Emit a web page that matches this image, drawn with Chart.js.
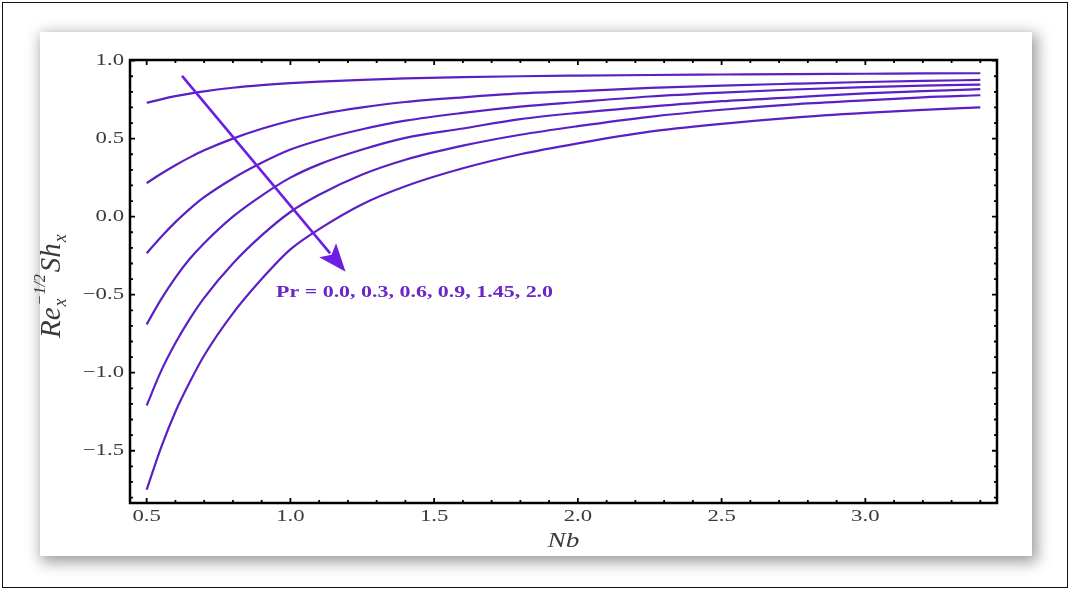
<!DOCTYPE html>
<html>
<head>
<meta charset="utf-8">
<script src="https://cdn.jsdelivr.net/npm/chart.js@4.4.1/dist/chart.umd.min.js"></script>
<style>
  html, body { margin: 0; padding: 0; background: #fff; }
  #page  { position: relative; width: 1070px; height: 589px; overflow: hidden; }
  #frame { position: absolute; left: 2px; top: 2px; width: 1066px; height: 586px; box-sizing: border-box; border: 1.5px solid #111; }
  #panel { position: absolute; left: 40px; top: 32px; width: 992px; height: 524px; background: #fff;
           box-shadow: 3px 4px 14px 2px rgba(0,0,0,0.40); }
  canvas { position: absolute; left: 0; top: 0; }
</style>
</head>
<body>
<div id="page">
  <div id="frame"></div>
  <div id="panel"></div>
  <canvas id="nbCanvas" width="1070" height="589"></canvas>
</div>
<script>
(function(){
'use strict';

// valores
const nb    = [0.5, 0.55, 0.6, 0.65, 0.7, 0.8, 0.9, 1.0, 1.1, 1.25, 1.4, 1.6, 1.8, 2.0, 2.25, 2.5, 2.75, 3.0, 3.2, 3.4];
const pr00  = [0.73, 0.752, 0.772, 0.789, 0.803, 0.826, 0.843, 0.856, 0.866, 0.877, 0.886, 0.894, 0.90, 0.904, 0.908, 0.911, 0.914, 0.916, 0.918, 0.919];
const pr03  = [0.215, 0.275, 0.33, 0.38, 0.425, 0.50, 0.563, 0.615, 0.655, 0.70, 0.735, 0.765, 0.79, 0.805, 0.825, 0.84, 0.852, 0.863, 0.87, 0.876];
const pr06  = [-0.235, -0.13, -0.035, 0.05, 0.125, 0.245, 0.345, 0.43, 0.49, 0.56, 0.615, 0.665, 0.705, 0.735, 0.77, 0.795, 0.815, 0.83, 0.84, 0.846];
const pr09  = [-0.69, -0.53, -0.39, -0.27, -0.17, 0.0, 0.135, 0.25, 0.335, 0.43, 0.505, 0.565, 0.625, 0.665, 0.705, 0.74, 0.765, 0.79, 0.805, 0.817];
const pr145 = [-1.21, -0.99, -0.81, -0.655, -0.52, -0.30, -0.12, 0.03, 0.14, 0.27, 0.365, 0.455, 0.525, 0.58, 0.64, 0.685, 0.72, 0.745, 0.765, 0.778];
const pr20  = [-1.75, -1.48, -1.25, -1.06, -0.89, -0.62, -0.40, -0.21, -0.08, 0.08, 0.195, 0.31, 0.40, 0.47, 0.545, 0.595, 0.635, 0.665, 0.685, 0.70];
const series = [pr00, pr03, pr06, pr09, pr145, pr20];

const xTicks = [0.5, 1.0, 1.5, 2.0, 2.5, 3.0];
const yTicks = [-1.5, -1.0, -0.5, 0.0, 0.5, 1.0];

const arrowFrom = { x: 0.623, y: 0.902 };
const arrowTo   = { x: 1.192, y: -0.353 };
const prLabel   = 'Pr = 0.0, 0.3, 0.6, 0.9, 1.45, 2.0';
const prLabelAt = { x: 0.95, y: -0.49 };

const CURVE = '#5b20c4';
const ARROW = '#6c1ee6';
const SERIF = '"Liberation Serif", "Times New Roman", serif';

function txt(ctx, s, x, y, font, align, sx){
  ctx.save();
  ctx.font = font;
  ctx.textBaseline = 'middle';
  ctx.textAlign = 'left';
  const w = ctx.measureText(s).width * sx;
  const x0 = align === 'right' ? x - w : (align === 'center' ? x - w / 2 : x);
  ctx.translate(x0, y);
  ctx.scale(sx, 1);
  ctx.fillText(s, 0, 0);
  ctx.restore();
}
const fmt = v => v.toFixed(1).replace('-', '\u2212');

// marco, ticks hacia dentro, etiquetas, títulos y flecha
const decor = {
  id: 'decor',
  afterDraw(chart){
    const { ctx, chartArea: a, scales: { x, y } } = chart;
    ctx.save();

    // flecha
    const x1 = x.getPixelForValue(arrowFrom.x), y1 = y.getPixelForValue(arrowFrom.y);
    const x2 = x.getPixelForValue(arrowTo.x),   y2 = y.getPixelForValue(arrowTo.y);
    const ang = Math.atan2(y2 - y1, x2 - x1);
    const hl = 28, hw = 11;
    const bx = x2 - hl * Math.cos(ang), by = y2 - hl * Math.sin(ang);
    ctx.strokeStyle = ARROW; ctx.fillStyle = ARROW; ctx.lineWidth = 2.6;
    ctx.beginPath(); ctx.moveTo(x1, y1); ctx.lineTo(bx + 4 * Math.cos(ang), by + 4 * Math.sin(ang)); ctx.stroke();
    ctx.beginPath();
    ctx.moveTo(x2, y2);
    ctx.lineTo(bx + hw * Math.sin(ang), by - hw * Math.cos(ang));
    ctx.lineTo(bx + 6 * Math.cos(ang), by + 6 * Math.sin(ang));
    ctx.lineTo(bx - hw * Math.sin(ang), by + hw * Math.cos(ang));
    ctx.closePath(); ctx.fill();

    // etiqueta Pr
    ctx.fillStyle = '#6a26c8';
    txt(ctx, prLabel, x.getPixelForValue(prLabelAt.x), y.getPixelForValue(prLabelAt.y), 'bold 16.5px ' + SERIF, 'left', 1.33);

    // marco
    ctx.strokeStyle = '#000'; ctx.lineWidth = 2.5;
    ctx.strokeRect(a.left, a.top, a.right - a.left, a.bottom - a.top);

    // ticks
    ctx.lineWidth = 1.8;
    ctx.beginPath();
    for (let i = 5; i <= 34; i++) {
      const v = i / 10, px = x.getPixelForValue(v), L = (i % 5 === 0) ? 5 : 3;
      ctx.moveTo(px, a.bottom); ctx.lineTo(px, a.bottom - L);
      ctx.moveTo(px, a.top);    ctx.lineTo(px, a.top + L);
    }
    for (let i = -18; i <= 10; i++) {
      const v = i / 10, py = y.getPixelForValue(v), L = (i % 5 === 0) ? 5 : 3;
      ctx.moveTo(a.left, py);  ctx.lineTo(a.left + L, py);
      ctx.moveTo(a.right, py); ctx.lineTo(a.right - L, py);
    }
    ctx.stroke();

    // etiquetas de ticks
    ctx.fillStyle = '#3a3a3a';
    xTicks.forEach(v => txt(ctx, fmt(v), x.getPixelForValue(v), a.bottom + 13, '17.5px ' + SERIF, 'center', 1.3));
    yTicks.forEach(v => txt(ctx, fmt(v), a.left - 6, y.getPixelForValue(v), '17.5px ' + SERIF, 'right', 1.3));

    // título eje x
    txt(ctx, 'Nb', (a.left + a.right) / 2, a.bottom + 38, 'italic 21px ' + SERIF, 'center', 1.3);

    // título eje y: Re_x^{-1/2} Sh_x
    ctx.save();
    ctx.translate(60, 338);
    ctx.rotate(-Math.PI / 2);
    ctx.textBaseline = 'alphabetic'; ctx.textAlign = 'left';
    let cx = 0;
    ctx.font = 'italic 29px ' + SERIF; ctx.fillText('Re', cx, 0); cx += ctx.measureText('Re').width;
    ctx.font = 'italic 18px ' + SERIF; ctx.fillText('x', cx + 1, 6);
    ctx.font = 'italic 16px ' + SERIF; ctx.fillText('\u22121/2', cx + 2, -15); cx += ctx.measureText('\u22121/2').width + 4;
    ctx.font = 'italic 29px ' + SERIF; ctx.fillText('Sh', cx, 0); cx += ctx.measureText('Sh').width;
    ctx.font = 'italic 18px ' + SERIF; ctx.fillText('x', cx + 1, 6);
    ctx.restore();

    ctx.restore();
  }
};

const canvas = document.getElementById('nbCanvas');
const existing = Chart.getChart(canvas);
if (existing) { existing.destroy(); }

new Chart(canvas.getContext('2d'), {
  type: 'line',
  data: {
    datasets: series.map(s => ({
      data: nb.map((v, i) => ({ x: v, y: s[i] })),
      borderColor: CURVE,
      borderWidth: 2.2,
      pointRadius: 0,
      fill: false,
      cubicInterpolationMode: 'monotone'
    }))
  },
  options: {
    responsive: false,
    animation: false,
    devicePixelRatio: 1,
    layout: { padding: { left: 0, top: 60, right: 73, bottom: 0 } },
    plugins: { legend: { display: false }, tooltip: { enabled: false } },
    scales: {
      x: {
        type: 'linear', min: 0.442, max: 3.458,
        grid: { display: false }, border: { display: false },
        ticks: { display: false },
        afterFit(s) { s.height = 86; }
      },
      y: {
        min: -1.835, max: 1.004,
        grid: { display: false }, border: { display: false },
        ticks: { display: false },
        afterFit(s) { s.width = 130; }
      }
    }
  },
  plugins: [decor]
});

})();
</script>
</body>
</html>
